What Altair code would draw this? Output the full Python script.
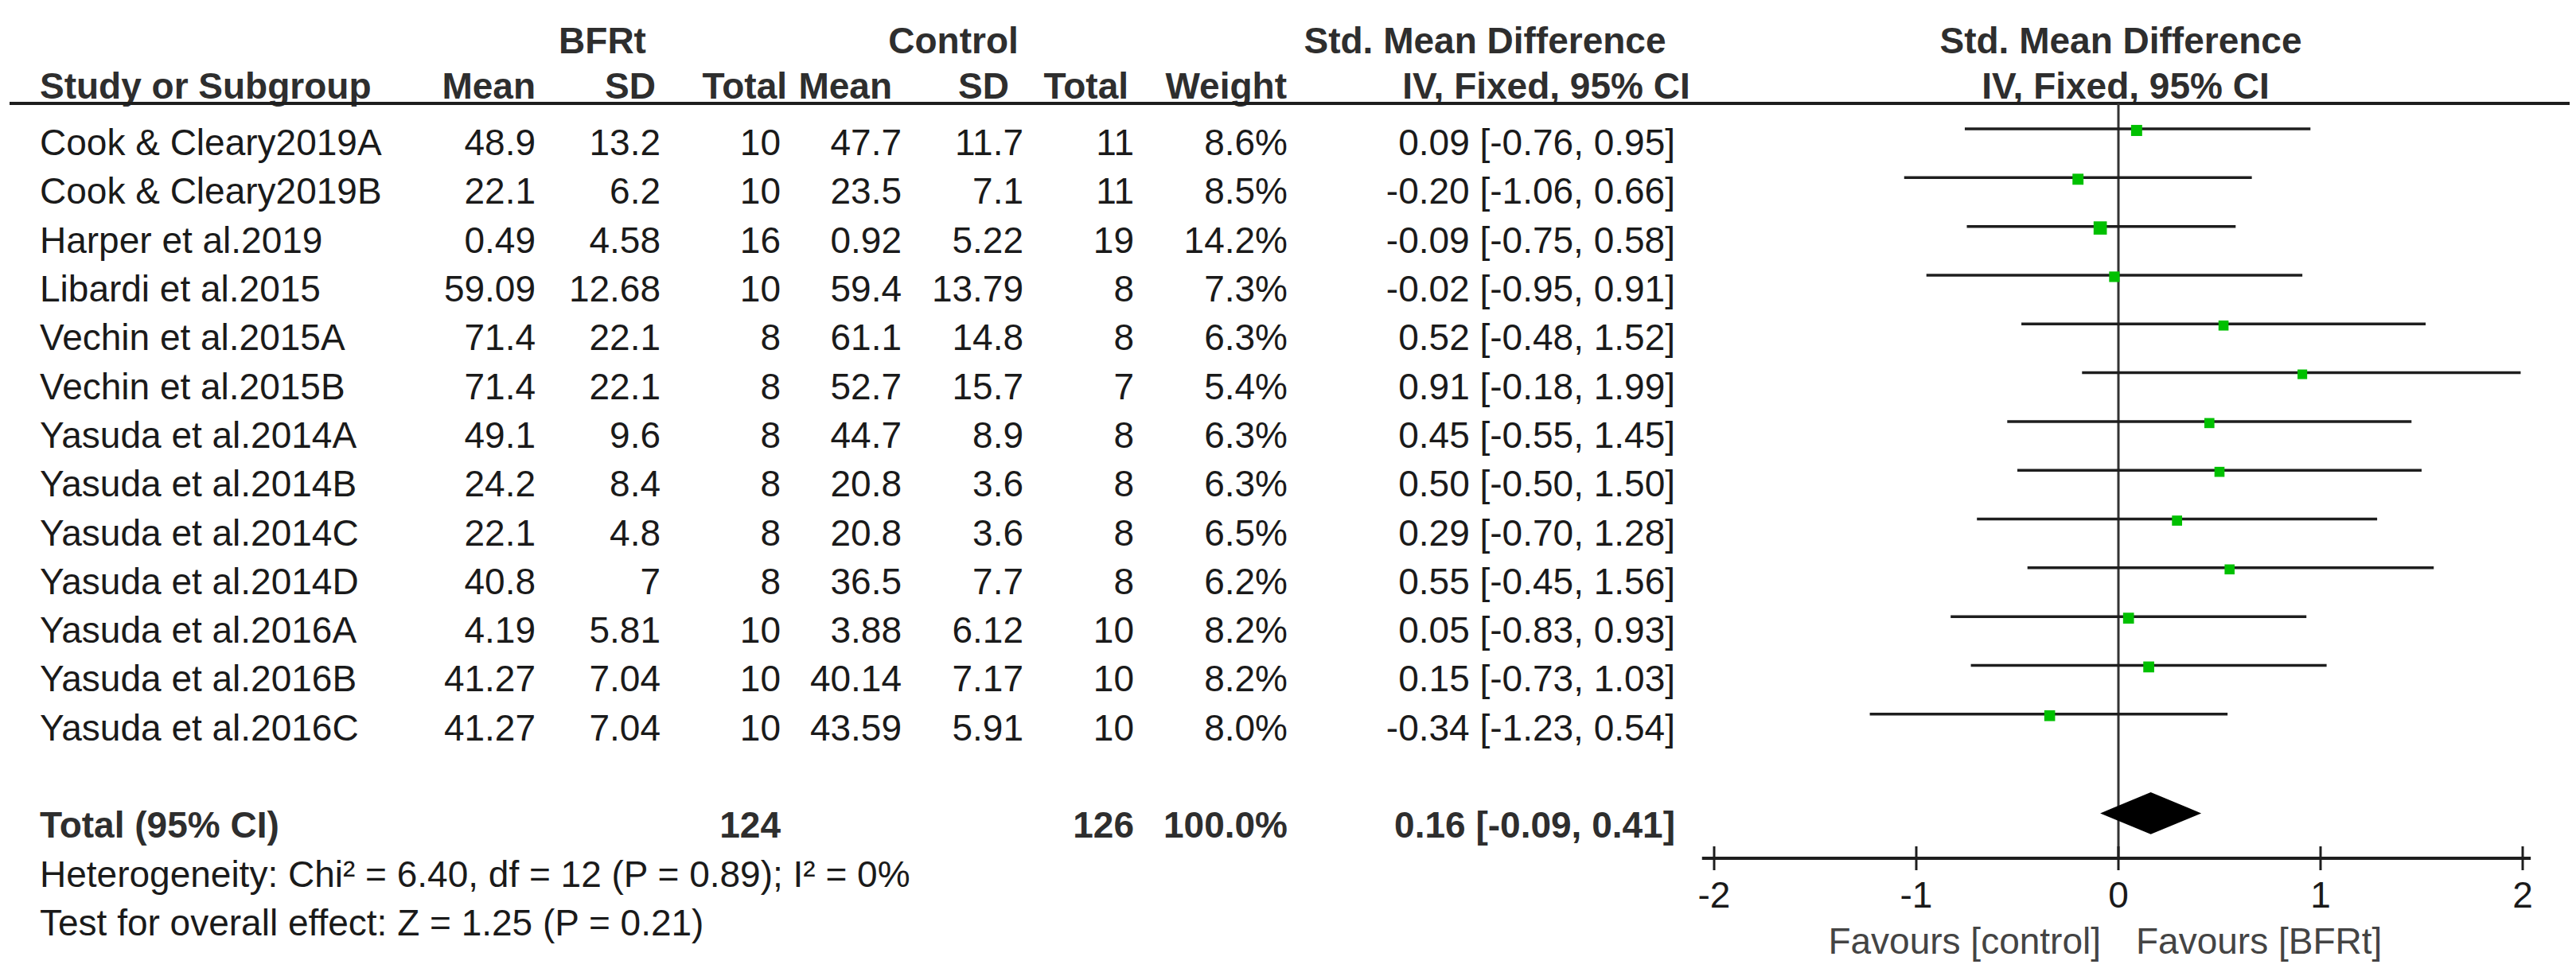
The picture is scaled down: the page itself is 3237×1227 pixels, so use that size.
import altair as alt
import pandas as pd

# ---------------- data ----------------
studies = ["Cook & Cleary2019A", "Cook & Cleary2019B", "Harper et al.2019", "Libardi et al.2015",
           "Vechin et al.2015A", "Vechin et al.2015B", "Yasuda et al.2014A", "Yasuda et al.2014B",
           "Yasuda et al.2014C", "Yasuda et al.2014D", "Yasuda et al.2016A", "Yasuda et al.2016B",
           "Yasuda et al.2016C"]
bfr_mean = ["48.9", "22.1", "0.49", "59.09", "71.4", "71.4", "49.1", "24.2", "22.1", "40.8", "4.19", "41.27", "41.27"]
bfr_sd = ["13.2", "6.2", "4.58", "12.68", "22.1", "22.1", "9.6", "8.4", "4.8", "7", "5.81", "7.04", "7.04"]
bfr_n = [10, 10, 16, 10, 8, 8, 8, 8, 8, 8, 10, 10, 10]
ctl_mean = ["47.7", "23.5", "0.92", "59.4", "61.1", "52.7", "44.7", "20.8", "20.8", "36.5", "3.88", "40.14", "43.59"]
ctl_sd = ["11.7", "7.1", "5.22", "13.79", "14.8", "15.7", "8.9", "3.6", "3.6", "7.7", "6.12", "7.17", "5.91"]
ctl_n = [11, 11, 19, 8, 8, 7, 8, 8, 8, 8, 10, 10, 10]
weight = [8.6, 8.5, 14.2, 7.3, 6.3, 5.4, 6.3, 6.3, 6.5, 6.2, 8.2, 8.2, 8.0]
smd = [0.09, -0.20, -0.09, -0.02, 0.52, 0.91, 0.45, 0.50, 0.29, 0.55, 0.05, 0.15, -0.34]
ci_lo = [-0.76, -1.06, -0.75, -0.95, -0.48, -0.18, -0.55, -0.50, -0.70, -0.45, -0.83, -0.73, -1.23]
ci_hi = [0.95, 0.66, 0.58, 0.91, 1.52, 1.99, 1.45, 1.50, 1.28, 1.56, 0.93, 1.03, 0.54]

total_bfr_n = 124
total_ctl_n = 126
total_weight = 100.0
pooled = 0.16
pooled_lo = -0.09
pooled_hi = 0.41

heterogeneity = "Heterogeneity: Chi² = 6.40, df = 12 (P = 0.89); I² = 0%"
overall = "Test for overall effect: Z = 1.25 (P = 0.21)"

axis_ticks = [-2, -1, 0, 1, 2]
axis_labels = ["-2", "-1", "0", "1", "2"]
axis_span = [-2.06, 2.04]

# ---------------- tables ----------------
n = len(studies)
df = pd.DataFrame({
    "row": list(range(n)),
    "study": studies,
    "bm": bfr_mean, "bs": bfr_sd, "bn": [str(v) for v in bfr_n],
    "cm": ctl_mean, "cs": ctl_sd, "cn": [str(v) for v in ctl_n],
    "w": [f"{v:.1f}%" for v in weight],
    "ci": [f"{s:.2f} [{l:.2f}, {h:.2f}]" for s, l, h in zip(smd, ci_lo, ci_hi)],
    "smd": smd, "lo": ci_lo, "hi": ci_hi, "weight": weight,
})
TOTAL_ROW = 14
tot = pd.DataFrame({
    "row": [TOTAL_ROW],
    "study": ["Total (95% CI)"],
    "bn": [str(total_bfr_n)], "cn": [str(total_ctl_n)],
    "w": [f"{total_weight:.1f}%"],
    "ci": [f"{pooled:.2f} [{pooled_lo:.2f}, {pooled_hi:.2f}]"],
})
foot = pd.DataFrame({"row": [15, 16], "txt": [heterogeneity, overall]})
diamond = pd.DataFrame({"x": [pooled_lo, pooled, pooled_hi], "half": [0, 1, 0], "row": [TOTAL_ROW] * 3})
ticks = pd.DataFrame({"t": axis_ticks, "lab": axis_labels})
span = pd.DataFrame({"a": [axis_span[0]], "b": [axis_span[1]]})
zero = pd.DataFrame({"z": [0]})
dummy = pd.DataFrame({"d": [0]})

# ---------------- style ----------------
FONT = "Liberation Sans"
FS = 46
OX = 8  # page margin
TXT = "#1a1a1a"
HDR = "#2e2e2e"
LINE = "#1e1e1e"
GREEN = "#00c000"

xs = alt.Scale(domain=[-2, 2], range=[2154 - OX, 3170 - OX])
ys = alt.Scale(domain=[0, 16], range=[181 - OX, 1162 - OX])
Y = alt.Y("row:Q", scale=ys, axis=None)


def col(data, field, xpix, align="right", bold=False, color=TXT):
    return alt.Chart(data).mark_text(
        align=align, baseline="middle", font=FONT, fontSize=FS,
        fontWeight="bold" if bold else "normal", color=color
    ).encode(x=alt.value(xpix - OX), y=Y, text=alt.Text(f"{field}:N"))


def label(txt, xpix, ypix, align="center", bold=True, color=HDR, size=FS):
    return alt.Chart(dummy).mark_text(
        align=align, baseline="middle", font=FONT, fontSize=size,
        fontWeight="bold" if bold else "normal", color=color
    ).encode(x=alt.value(xpix - OX), y=alt.value(ypix - OX), text=alt.value(txt))


layers = []

# headers
layers += [
    label("BFRt", 757, 53), label("Control", 1198, 53),
    label("Std. Mean Difference", 1866, 53), label("Std. Mean Difference", 2665, 53),
    label("Study or Subgroup", 50, 110, align="left"),
    label("Mean", 673, 110, align="right"), label("SD", 824, 110, align="right"),
    label("Total", 989, 110, align="right"), label("Mean", 1121, 110, align="right"),
    label("SD", 1268, 110, align="right"), label("Total", 1418, 110, align="right"),
    label("Weight", 1617, 110, align="right"),
    label("IV, Fixed, 95% CI", 1943, 110), label("IV, Fixed, 95% CI", 2671, 110),
]

# header rule
layers.append(alt.Chart(dummy).mark_rule(color=LINE, strokeWidth=4).encode(
    x=alt.value(12 - OX), x2=alt.value(3237 - OX), y=alt.value(130 - OX)))

# study columns
layers += [
    col(df, "study", 50, align="left"),
    col(df, "bm", 673), col(df, "bs", 830), col(df, "bn", 981),
    col(df, "cm", 1133), col(df, "cs", 1286), col(df, "cn", 1425),
    col(df, "w", 1618), col(df, "ci", 2105),
]
# total row
layers += [
    col(tot, "study", 50, align="left", bold=True, color=HDR),
    col(tot, "bn", 981, bold=True, color=HDR), col(tot, "cn", 1425, bold=True, color=HDR),
    col(tot, "w", 1618, bold=True, color=HDR), col(tot, "ci", 2105, bold=True, color=HDR),
]
# footnotes
layers.append(alt.Chart(foot).mark_text(
    align="left", baseline="middle", font=FONT, fontSize=FS, color=TXT
).encode(x=alt.value(50 - OX), y=Y, text="txt:N"))

# zero line
layers.append(alt.Chart(zero).mark_rule(color="#333333", strokeWidth=3).encode(
    x=alt.X("z:Q", scale=xs, axis=None), y=alt.value(130 - OX), y2=alt.value(1080 - OX)))

# CI lines
layers.append(alt.Chart(df).mark_rule(color=LINE, strokeWidth=3.5, yOffset=-19).encode(
    x=alt.X("lo:Q", scale=xs, axis=None), x2="hi:Q", y=Y))

# squares
layers.append(alt.Chart(df).mark_square(color=GREEN, filled=True, opacity=1, yOffset=-17).encode(
    x=alt.X("smd:Q", scale=xs, axis=None), y=Y,
    size=alt.Size("weight:Q", scale=alt.Scale(domain=[5, 15], range=[140, 290]), legend=None)))

# diamond
layers.append(alt.Chart(diamond).transform_calculate(
    top="datum.row - 0.43 * datum.half", bot="datum.row + 0.43 * datum.half"
).mark_area(color="black", orient="vertical", yOffset=-17, y2Offset=-17).encode(
    x=alt.X("x:Q", scale=xs, axis=None),
    y=alt.Y("top:Q", scale=ys, axis=None), y2="bot:Q"))

# bottom axis
layers.append(alt.Chart(span).mark_rule(color=LINE, strokeWidth=4).encode(
    x=alt.X("a:Q", scale=xs, axis=None), x2="b:Q", y=alt.value(1079 - OX)))
layers.append(alt.Chart(ticks).mark_rule(color=LINE, strokeWidth=3).encode(
    x=alt.X("t:Q", scale=xs, axis=None), y=alt.value(1064 - OX), y2=alt.value(1094 - OX)))
layers.append(alt.Chart(ticks).mark_text(
    align="center", baseline="middle", font=FONT, fontSize=FS, color=TXT
).encode(x=alt.X("t:Q", scale=xs, axis=None), y=alt.value(1127 - OX), text="lab:N"))
layers.append(label("Favours [control]", 2640, 1185, align="right", bold=False, color="#444444"))
layers.append(label("Favours [BFRt]", 2684, 1185, align="left", bold=False, color="#444444"))

chart = alt.layer(*layers).properties(
    width=3237 - 2 * OX, height=1227 - 2 * OX, padding=0, autosize="none", background="white"
).configure_view(stroke=None)

chart.save("out.html", embed_options={"renderer": "svg", "actions": False})
